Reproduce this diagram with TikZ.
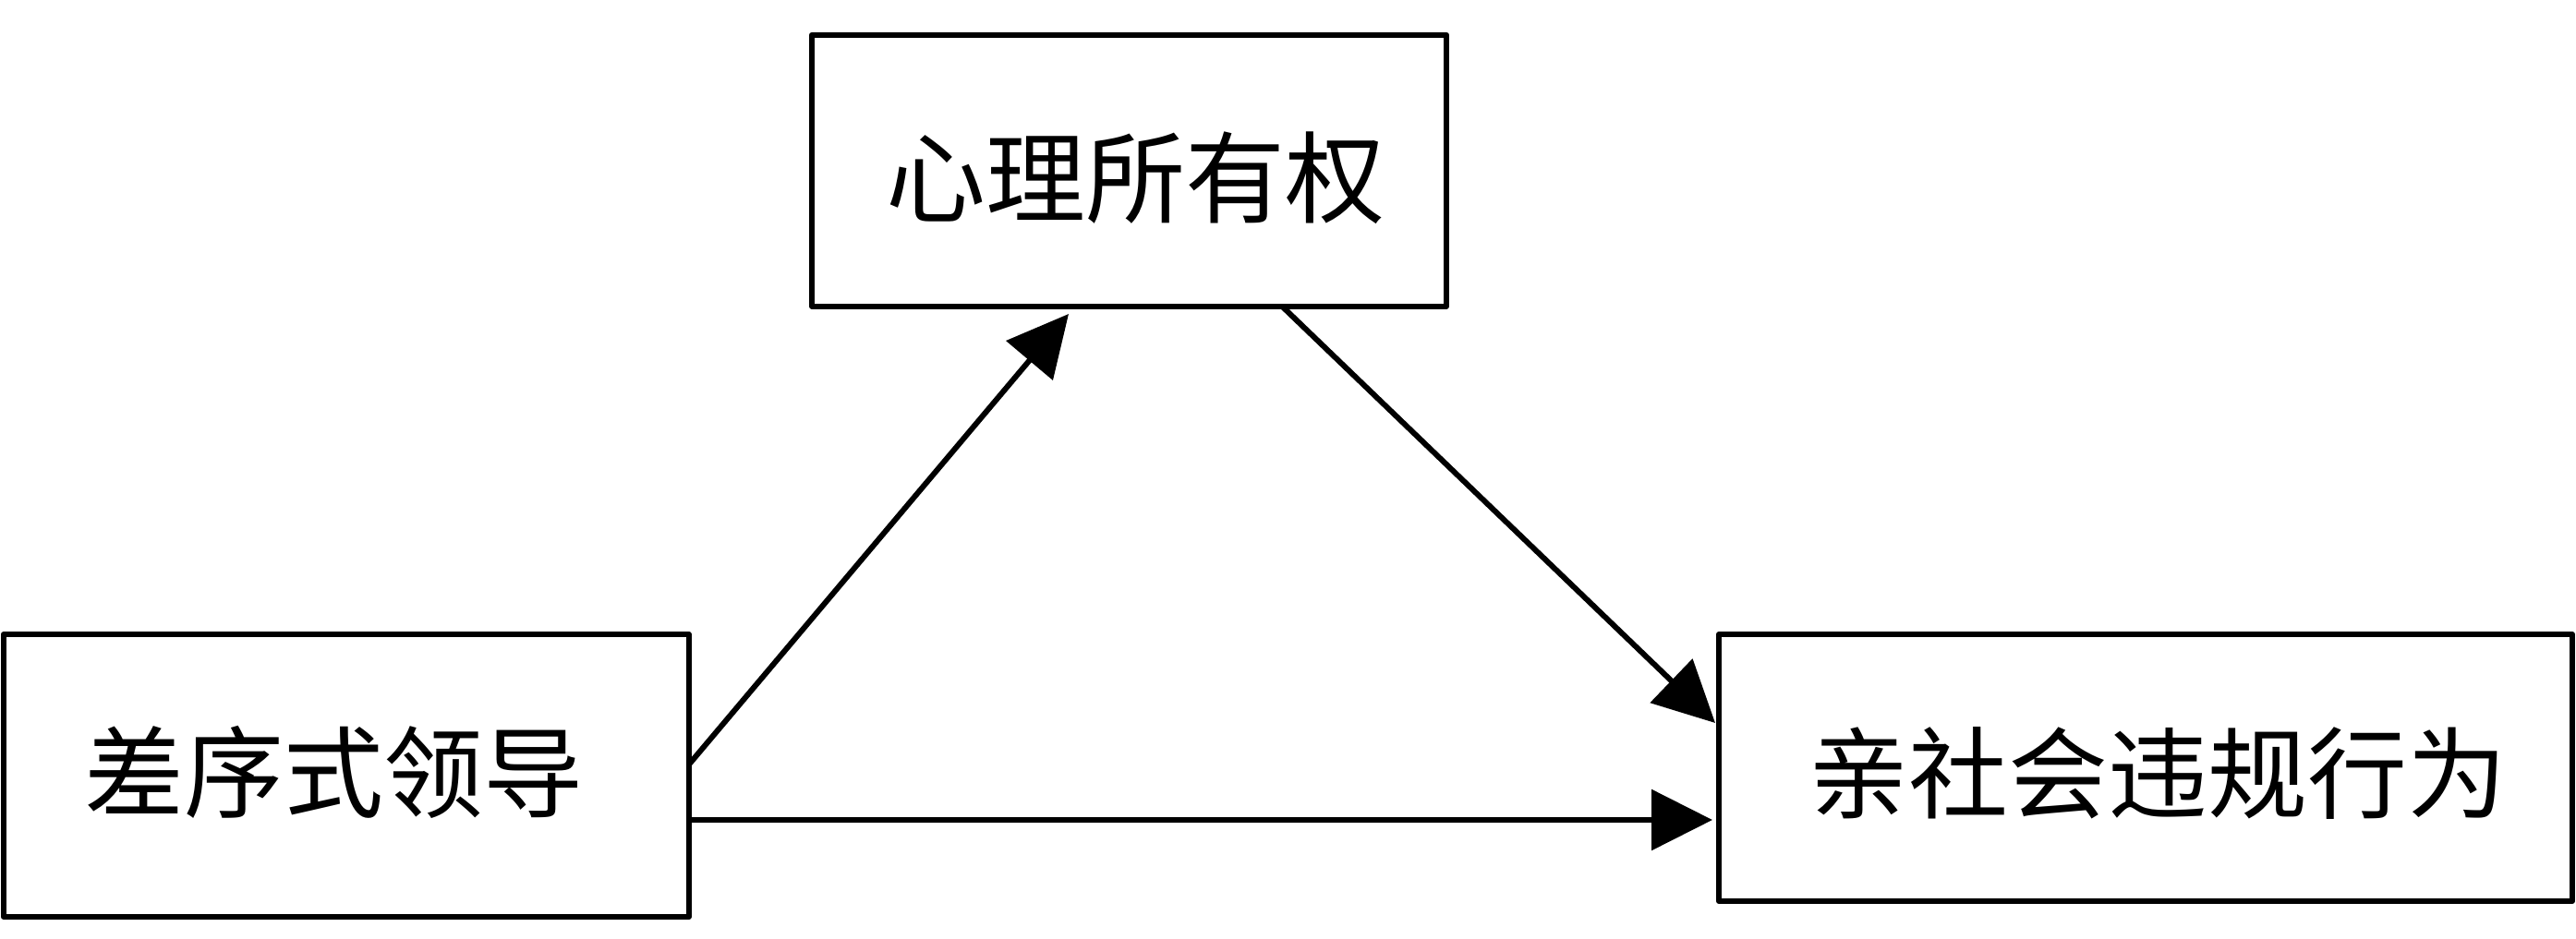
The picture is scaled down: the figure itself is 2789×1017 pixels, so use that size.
\documentclass[tikz,border=0pt]{standalone}
\usepackage{fontspec}
\newfontfamily\cjk{Noto Sans CJK SC}
\usetikzlibrary{arrows.meta,calc}
\begin{document}
\begin{tikzpicture}[x=1pt,y=-1pt,
  box/.style={draw,line width=6pt,line join=round,inner sep=0pt,outer sep=0pt},
  lbl/.style={font=\cjk\fontsize{108}{120}\selectfont,inner sep=0pt,anchor=center},
  conn/.style={line width=6pt,-{Triangle[length=66pt,width=65pt]}}]
\useasboundingbox (0,0) rectangle (2789,1017);
\fill[white] (0,0) rectangle (2789,1017);
\node[box,minimum width=687pt,minimum height=294pt] (M) at (1222.5,184.7) {};
\node[box,minimum width=742pt,minimum height=306pt] (L) at (374.9,840) {};
\node[box,minimum width=924pt,minimum height=289pt] (R) at (2323,831.5) {};
\node[lbl] (Mt) at (1229.5,193) {心理所有权};
\node[lbl] (Lt) at (361,836) {差序式领导};
\node[lbl] (Rt) at (2336,837) {亲社会违规行为};
\draw[conn] ([yshift=12pt]L.east) -- ($(M.south)+(-65.5,8.3)$);
\draw[conn] ($(M.south)+(165.5,0)$) -- ($(R.west)+(-4,-48.5)$);
\draw[conn] ([yshift=-48pt]L.east) -- ($(R.west)+(-7,56.5)$);
\end{tikzpicture}
\end{document}
